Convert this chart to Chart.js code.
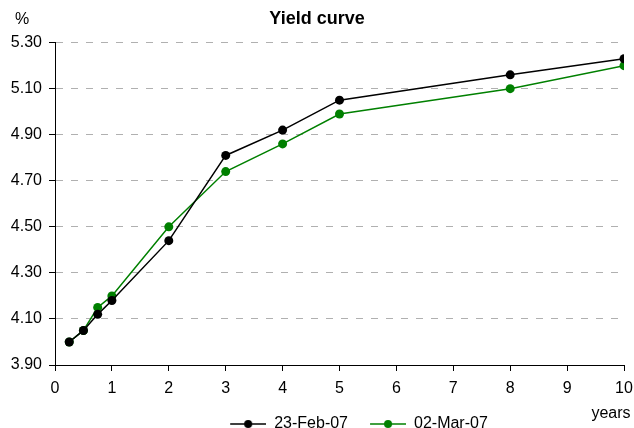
<!DOCTYPE html>
<html>
<head>
<meta charset="utf-8">
<script src="https://cdn.jsdelivr.net/npm/chart.js@4.4.1/dist/chart.umd.min.js"></script>
<style>
  body { margin: 0; background: #fff; }
  #wrap { width: 634px; height: 428px; }
</style>
</head>
<body>
<div id="wrap"><canvas id="chart"></canvas></div>
<script>
// maturities in years
var years = [0.25, 0.5, 0.75, 1, 2, 3, 4, 5, 8, 10];
var feb23 = [4.00, 4.05, 4.12, 4.18, 4.44, 4.81, 4.92, 5.05, 5.16, 5.23];
var mar02 = [4.00, 4.05, 4.15, 4.20, 4.50, 4.74, 4.86, 4.99, 5.10, 5.20];
var seriesNames = ['23-Feb-07', '02-Mar-07'];
var seriesColors = ['#000000', '#008000'];

var FONT = 'Liberation Sans, Arial, sans-serif';
var ICON_W = 50; // icon box incl. empty space on its left

function toPoints(vals) {
  return years.map(function (x, i) { return { x: x, y: vals[i] }; });
}

// little line-with-dot picture for the legend
function legendIcon(color) {
  var c = document.createElement('canvas');
  c.width = ICON_W; c.height = 10;
  var g = c.getContext('2d');
  var x0 = ICON_W - 36;
  g.strokeStyle = color;
  g.lineWidth = 1.5;
  g.beginPath(); g.moveTo(x0, 5); g.lineTo(ICON_W, 5); g.stroke();
  g.fillStyle = color;
  g.beginPath(); g.arc(x0 + 18, 5, 4, 0, Math.PI * 2); g.fill();
  return c;
}

// "%" and "years" labels
var axisTexts = {
  id: 'axisTexts',
  afterDraw: function (chart) {
    var ctx = chart.ctx;
    ctx.save();
    ctx.fillStyle = '#000';
    ctx.font = '16px ' + FONT;
    ctx.textBaseline = 'middle';
    ctx.textAlign = 'center';
    ctx.fillText('%', 22, 20);
    ctx.fillText('years', 611, 414);
    ctx.restore();
  }
};

// move the legend right and down, like the original
var legendShift = {
  id: 'legendShift',
  afterUpdate: function (chart) {
    var lg = chart.legend;
    if (lg) {
      lg.left += 35; lg.right += 35;
      lg.top += 14; lg.bottom += 14;
    }
  }
};

var ctx = document.getElementById('chart').getContext('2d');
var yieldChart = new Chart(ctx, {
  type: 'line',
  data: {
    datasets: [
      {
        label: seriesNames[0],
        data: toPoints(feb23),
        borderColor: seriesColors[0],
        backgroundColor: seriesColors[0],
        borderWidth: 1.5,
        pointRadius: 4.5,
        pointBorderWidth: 0
      },
      {
        label: seriesNames[1],
        data: toPoints(mar02),
        borderColor: seriesColors[1],
        backgroundColor: seriesColors[1],
        borderWidth: 1.5,
        pointRadius: 4.5,
        pointBorderWidth: 0
      }
    ]
  },
  options: {
    responsive: true,
    maintainAspectRatio: false,
    animation: false,
    layout: { padding: 0 },
    plugins: {
      title: {
        display: true,
        text: 'Yield curve',
        color: '#000',
        font: { family: FONT, size: 18, weight: 'bold' },
        padding: { top: 8, bottom: 13 }
      },
      legend: {
        position: 'bottom',
        labels: {
          color: '#000',
          font: { family: FONT, size: 16 },
          usePointStyle: true,
          pointStyleWidth: ICON_W,
          boxHeight: 10,
          padding: 8,
          generateLabels: function (chart) {
            return chart.data.datasets.map(function (ds, i) {
              return {
                text: ds.label,
                pointStyle: legendIcon(seriesColors[i]),
                fillStyle: seriesColors[i],
                strokeStyle: seriesColors[i],
                fontColor: '#000',
                lineWidth: 0,
                datasetIndex: i
              };
            });
          }
        }
      },
      tooltip: { enabled: false }
    },
    scales: {
      x: {
        type: 'linear',
        min: 0,
        max: 10,
        ticks: {
          stepSize: 1,
          color: '#000',
          font: { family: FONT, size: 16 },
          padding: 8
        },
        grid: {
          drawOnChartArea: false,
          drawTicks: true,
          tickLength: 6,
          tickColor: '#000',
          tickWidth: 1
        },
        border: { color: '#000', width: 1 },
        afterFit: function (scale) {
          scale.height = 29;
          scale.paddingRight = 10;
        }
      },
      y: {
        min: 3.9,
        max: 5.3,
        ticks: {
          stepSize: 0.2,
          color: '#000',
          font: { family: FONT, size: 16 },
          padding: 7,
          callback: function (v) { return v.toFixed(2); }
        },
        grid: {
          color: '#b0b0b0',
          lineWidth: 1,
          tickLength: 6,
          tickColor: '#000',
          tickWidth: 1,
          tickBorderDash: []
        },
        border: { color: '#000', width: 1, dash: [7, 8] },
        afterFit: function (scale) { scale.width = 55; }
      }
    }
  },
  plugins: [axisTexts, legendShift]
});
</script>
</body>
</html>
